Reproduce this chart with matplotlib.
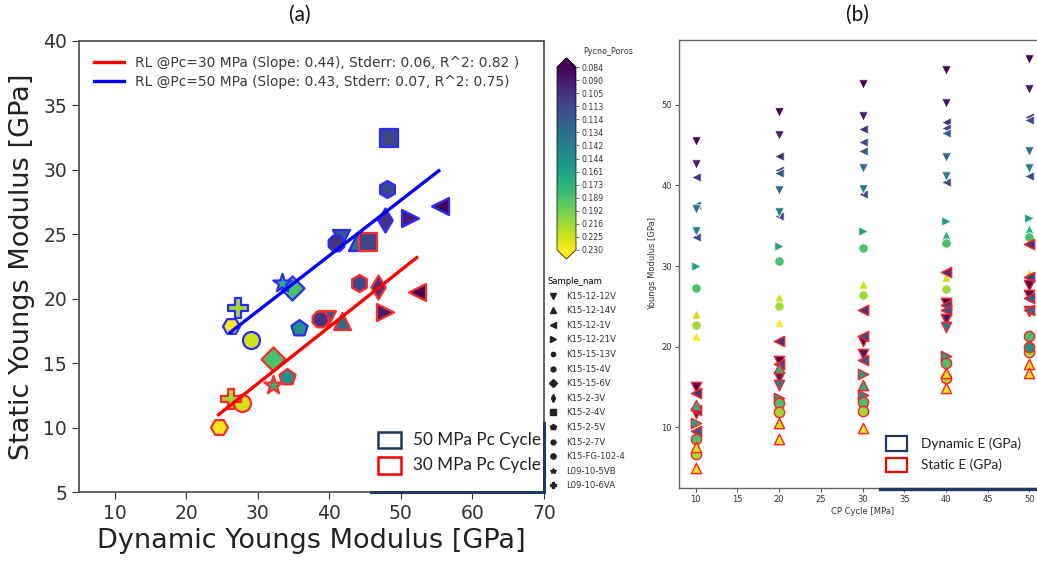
import matplotlib
matplotlib.use("Agg")
import matplotlib.pyplot as plt
import numpy as np
from matplotlib.lines import Line2D
from matplotlib.patches import Rectangle
from matplotlib.colors import Normalize
from matplotlib.cm import ScalarMappable

W, H = 1037, 562

# ---------------- data ----------------
poro_labels = ['0.084', '0.090', '0.105', '0.113', '0.114', '0.134', '0.142', '0.144',
               '0.161', '0.173', '0.189', '0.192', '0.216', '0.225', '0.230']

samples = ['K15-12-12V', 'K15-12-14V', 'K15-12-1V', 'K15-12-21V', 'K15-15-13V', 'K15-15-4V',
           'K15-15-6V', 'K15-2-3V', 'K15-2-4V', 'K15-2-5V', 'K15-2-7V', 'K15-FG-102-4',
           'L09-10-5VB', 'L09-10-6VA']
sample_markers = ['v', '^', '<', '>', '8', 'h', 'D', 'd', 's', 'p', 'H', 'o', '*', 'P']
sample_poro_idx = [4, 5, 0, 1, 2, 3, 10, 2, 3, 7, 14, 13, 9, 12]

dyn_30 = [39.6, 41.8, 52.3, 47.8, 38.75, 44.1, 32.15, 46.8, 45.4, 34.1, 24.5, 27.75, 32.05, 26.25]
sta_30 = [18.4, 18.3, 20.5, 19.0, 18.45, 21.2, 15.3, 20.9, 24.4, 13.9, 10.05, 11.9, 13.3, 12.2]
dyn_50 = [41.6, 43.9, 55.5, 51.3, 40.9, 48.0, 34.8, 47.8, 48.3, 35.8, 26.2, 29.0, 33.4, 27.2]
sta_50 = [24.7, 24.4, 27.2, 26.3, 24.3, 28.5, 20.8, 26.1, 32.5, 17.7, 17.9, 16.8, 21.2, 19.3]

fit30_x = [24.5, 52.2]
fit30_slope, fit30_icpt = 0.44, 0.22
fit50_x = [26.15, 55.3]
fit50_slope, fit50_icpt = 0.43, 6.15
fit30_label = 'RL @Pc=30 MPa (Slope: 0.44), Stderr: 0.06, R^2: 0.82 )'
fit50_label = 'RL @Pc=50 MPa (Slope: 0.43, Stderr: 0.07, R^2: 0.75)'

cycles = [10, 20, 30, 40, 50]
nan = np.nan
dynb_markers = ['v', 'v', '<', '<', '<', '<', 'v', 'v', '>', '^', 'o', '^', 'o', '^']
dynb_poro = [0, 1, 2, 3, 4, 3, 5, 6, 8, 9, 10, 13, 12, 14]
dynb_values = [
    [45.5, 49.1, 52.5, 54.3, 55.7],
    [42.6, 46.2, 48.6, 50.2, 51.9],
    [41.0, 43.6, 47.0, 47.8, 48.4],
    [nan, 41.9, 45.4, 47.1, 48.1],
    [37.6, 41.5, 44.2, 46.5, nan],
    [33.6, 36.2, 38.9, 40.4, 41.2],
    [37.1, 39.4, 42.2, 43.5, 44.3],
    [34.3, 36.7, 39.5, 41.1, 42.2],
    [30.0, 32.5, 34.3, 35.6, 36.0],
    [nan, nan, nan, 33.9, 34.6],
    [27.3, 30.6, 32.2, 32.9, 33.6],
    [24.0, 26.2, 27.8, 28.7, 29.1],
    [22.7, 25.0, 26.4, 27.1, nan],
    [21.3, 23.1, nan, 25.8, nan],
]
stab_markers = ['v', 'v', '<', '<', '<', 'v', '<', '>', '^', '>', 'o', 'o', '^', '^', 'o']
stab_poro = [0, 1, 2, 3, 4, 6, 5, 8, 9, 7, 10, 12, 13, 14, 7]
stab_values = [
    [15.0, 18.2, 20.7, 25.4, 27.7],
    [11.8, 16.3, 19.1, 23.4, 26.4],
    [14.3, 20.7, 24.6, 29.3, 32.7],
    [12.2, 17.8, 21.3, 25.2, 28.6],
    [9.5, nan, 18.4, 24.6, 26.0],
    [nan, 15.3, nan, 22.5, 24.4],
    [nan, nan, nan, nan, 24.6],
    [10.6, 13.6, 16.6, 18.8, nan],
    [12.8, 17.4, 15.3, nan, nan],
    [nan, nan, 14.0, nan, nan],
    [8.6, 13.0, 13.2, 18.0, 21.3],
    [6.7, 11.9, 12.1, 16.1, 19.4],
    [7.6, 10.5, nan, 16.7, 17.8],
    [5.0, 8.6, 9.9, 14.9, 16.7],
    [nan, nan, nan, nan, 20.0],
]

# ---------------- helpers ----------------
def fx(px):
    return px / W

def fy(py):
    return 1 - py / H

norm = Normalize(0, len(poro_labels) - 1)
cmap = plt.cm.viridis

def col(i):
    return cmap(norm(i))

fig = plt.figure(figsize=(W / 100, H / 100), dpi=100)
fig.patch.set_facecolor('white')

# ---------------- panel (a) ----------------
axa = fig.add_axes([fx(79), fy(492), fx(544 - 79), (492 - 41) / H])
for i, s in enumerate(samples):
    sz = 190 if sample_markers[i] in ('*', 'P') else 150
    axa.scatter(dyn_50[i], sta_50[i], marker=sample_markers[i], s=sz,
                color=col(sample_poro_idx[i]), edgecolors='#2a2aff', linewidths=1.6, zorder=3)
    axa.scatter(dyn_30[i], sta_30[i], marker=sample_markers[i], s=sz,
                color=col(sample_poro_idx[i]), edgecolors='#ff2a2a', linewidths=1.6, zorder=3)

x30 = np.array(fit30_x)
x50 = np.array(fit50_x)
l30, = axa.plot(x30, fit30_slope * x30 + fit30_icpt, color='#ff0000', lw=2.4, zorder=4)
l50, = axa.plot(x50, fit50_slope * x50 + fit50_icpt, color='#0000ff', lw=2.4, zorder=4)
lega = axa.legend([l30, l50], [fit30_label, fit50_label], loc='upper left',
                  bbox_to_anchor=(0.0, 1.0), frameon=False, fontsize=9.9,
                  handlelength=2.2, labelspacing=0.35, borderaxespad=0.7)
for t in lega.get_texts():
    t.set_color('#3a3a3a')

axa.set_xlim(5, 70)
axa.set_ylim(5, 40)
axa.set_xticks([10, 20, 30, 40, 50, 60, 70])
axa.set_yticks([5, 10, 15, 20, 25, 30, 35, 40])
axa.tick_params(labelsize=13.5, colors='#333333', length=5)
for sp in axa.spines.values():
    sp.set_color('#555555')
    sp.set_linewidth(1.3)
axa.set_xlabel('Dynamic Youngs Modulus [GPa]', fontsize=19.5, color='#222222', labelpad=4)
axa.set_ylabel('Static Youngs Modulus [GPa]', fontsize=19.5, color='#222222', labelpad=6)

# colorbar
cax = fig.add_axes([fx(557), fy(259), fx(19), (259 - 58) / H])
sm = ScalarMappable(norm=norm, cmap='viridis_r')
cb = fig.colorbar(sm, cax=cax, extend='both', ticks=list(range(len(poro_labels))))
cb.ax.set_yticklabels([poro_labels[len(poro_labels) - 1 - p] for p in range(len(poro_labels))])
cb.ax.tick_params(labelsize=5.6, length=2, width=0.5, pad=2, colors='#333333')
cb.outline.set_linewidth(0.5)
fig.text(fx(583), fy(52), 'Pycno_Poros', fontsize=5.8, color='#333333', va='center', ha='left')

# sample legend
handles = [Line2D([], [], marker=m, color='#222222', linestyle='', markersize=3.8)
           for m in sample_markers]
leg = fig.legend(handles, samples, loc='upper left', bbox_to_anchor=(fx(548), fy(277)),
                 frameon=False, fontsize=6.1, title='Sample_nam', title_fontsize=6.1,
                 alignment='left', handlelength=1.2, handletextpad=0.9,
                 labelspacing=0.66, borderpad=0.0, borderaxespad=0.0)
for t in leg.get_texts():
    t.set_color('#333333')

# navy box fragment + cycle legend (a)
navy = '#1f3864'
fig.add_artist(Line2D([fx(371), fx(544)], [fy(492), fy(492)], color=navy, lw=2.2))
fig.add_artist(Line2D([fx(544), fx(544)], [fy(423), fy(492)], color=navy, lw=2.2))
fig.add_artist(Rectangle((fx(378), fy(448)), fx(23), 16.5 / H, fill=False,
                         edgecolor=navy, lw=1.8))
fig.add_artist(Rectangle((fx(378), fy(473.5)), fx(23), 16.5 / H, fill=False,
                         edgecolor='#ff0000', lw=1.8))
fig.text(fx(413), fy(440), '50 MPa Pc Cycle', family='Lato', fontsize=12.3,
         color='#222222', va='center', ha='left')
fig.text(fx(413), fy(465), '30 MPa Pc Cycle', family='Lato', fontsize=12.3,
         color='#222222', va='center', ha='left')

# white cover for the right image area
fig.add_artist(Rectangle((fx(641), 0), 1, 1, transform=fig.transFigure,
                         facecolor='white', edgecolor='none', zorder=6))

# ---------------- panel (b) ----------------
axb = fig.add_axes([fx(679), fy(488), fx(367), (488 - 40) / H])
axb.set_zorder(7)
for i, vals in enumerate(dynb_values):
    axb.scatter(cycles, vals, marker=dynb_markers[i], s=46, color=col(dynb_poro[i]),
                edgecolors='white', linewidths=0.6, zorder=3)
for i, vals in enumerate(stab_values):
    axb.scatter(cycles, vals, marker=stab_markers[i], s=55, color=col(stab_poro[i]),
                edgecolors='#ff2020', linewidths=1.0, zorder=4)
axb.set_xlim(8.0, 52.0)
axb.set_ylim(2.5, 58.0)
axb.set_xticks([10, 15, 20, 25, 30, 35, 40, 45, 50])
axb.set_yticks([10, 20, 30, 40, 50])
axb.tick_params(labelsize=6, length=3, width=0.6, colors='#333333', pad=2)
for sp in axb.spines.values():
    sp.set_color('#666666')
    sp.set_linewidth(1.0)
axb.set_xlabel('CP Cycle [MPa]', fontsize=6, color='#333333', labelpad=2)
axb.set_ylabel('Youngs Modulus [GPa]', fontsize=6, color='#333333', labelpad=3)

fig.add_artist(Line2D([fx(880), fx(1037)], [fy(488.5), fy(488.5)], color=navy, lw=2.4, zorder=8))
fig.add_artist(Rectangle((fx(886), fy(450.5)), fx(21), 14.5 / H, fill=False,
                         edgecolor=navy, lw=1.6, zorder=8))
fig.add_artist(Rectangle((fx(886), fy(472)), fx(21), 14.5 / H, fill=False,
                         edgecolor='#ff0000', lw=1.6, zorder=8))
fig.text(fx(921), fy(444), 'Dynamic E (GPa)', family='Lato', fontsize=9.8,
         color='#222222', va='center', ha='left', zorder=8)
fig.text(fx(921), fy(465), 'Static E (GPa)', family='Lato', fontsize=9.8,
         color='#222222', va='center', ha='left', zorder=8)

# titles
fig.text(fx(300), fy(15), '(a)', family='Lato', fontsize=15, color='#111111',
         ha='center', va='center', zorder=8)
fig.text(fx(857), fy(15), '(b)', family='Lato', fontsize=15, color='#111111',
         ha='center', va='center', zorder=8)

fig.savefig('out.png', dpi=100)
